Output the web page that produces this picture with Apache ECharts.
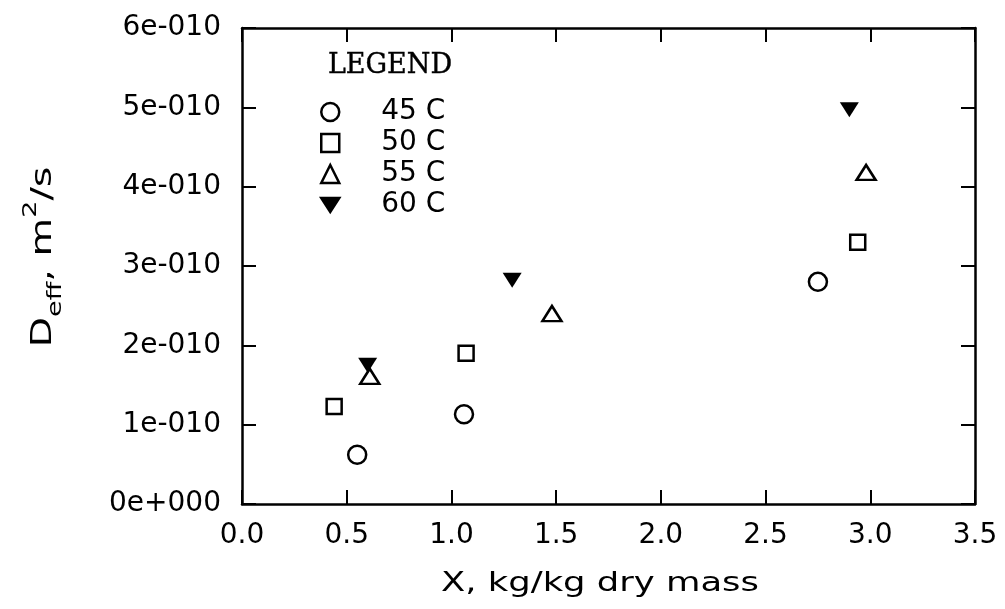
<!DOCTYPE html>
<html>
<head>
<meta charset="utf-8">
<script src="https://cdn.jsdelivr.net/npm/echarts@6/dist/echarts.min.js"></script>
<style>
html,body{margin:0;padding:0;background:#fff;}
#chart{width:1005px;height:609px;}
</style>
</head>
<body>
<div id="chart"></div>
<script>
// ---- data ----
const seriesNames = ['45 C', '50 C', '55 C', '60 C'];
const s45 = [[0.55, 0.62e-10], [1.06, 1.13e-10], [2.75, 2.80e-10]];
const s50 = [[0.44, 1.23e-10], [1.07, 1.90e-10], [2.94, 3.30e-10]];
const s55 = [[0.61, 1.61e-10], [1.48, 2.40e-10], [2.98, 4.18e-10]];
const s60 = [[0.60, 1.75e-10], [1.29, 2.82e-10], [2.90, 4.97e-10]];
const xTickLabels = ['0.0', '0.5', '1.0', '1.5', '2.0', '2.5', '3.0', '3.5'];
const yTickLabels = ['0e+000', '1e-010', '2e-010', '3e-010', '4e-010', '5e-010', '6e-010'];
const xTitle = 'X, kg/kg dry mass';
const legendTitle = 'LEGEND';

const FONT = 'DejaVu Sans';
const chart = echarts.init(document.getElementById('chart'), null, {renderer: 'canvas'});

const lineStyle = {color: '#000', width: 2.5};
const tickStyle = {color: '#000', width: 2};

function xAxisDef(pos, showLabel) {
  return {
    type: 'value', position: pos, min: 0, max: 3.5, interval: 0.5,
    axisLine: {show: true, onZero: false, lineStyle: lineStyle},
    axisTick: {show: true, inside: true, length: 14, lineStyle: tickStyle},
    splitLine: {show: false},
    axisLabel: {
      show: showLabel, margin: 18, fontFamily: FONT, fontSize: 28, color: '#000',
      formatter: function (v) { return xTickLabels[Math.round(v / 0.5)]; }
    }
  };
}
function yAxisDef(pos, showLabel) {
  return {
    type: 'value', position: pos, min: 0, max: 6e-10, interval: 1e-10,
    axisLine: {show: true, onZero: false, lineStyle: lineStyle},
    axisTick: {show: true, inside: true, length: 14, lineStyle: tickStyle},
    splitLine: {show: false},
    axisLabel: {
      show: showLabel, margin: 21, fontFamily: FONT, fontSize: 28, color: '#000',
      formatter: function (v) { return yTickLabels[Math.round(v / 1e-10)]; }
    }
  };
}

const option = {
  backgroundColor: '#fff',
  animation: false,
  grid: {left: 242, right: 30, top: 28, bottom: 105, containLabel: false},
  xAxis: [xAxisDef('bottom', true), xAxisDef('top', false)],
  yAxis: [yAxisDef('left', true), yAxisDef('right', false)],
  legend: {
    orient: 'vertical', left: 320, top: 98, padding: 0,
    itemWidth: 18, itemHeight: 18, itemGap: 3,
    data: seriesNames,
    itemStyle: {borderWidth: 2.5},
    textStyle: {fontFamily: FONT, fontSize: 28, color: '#000', padding: [0, 0, 0, 37]}
  },
  graphic: [
    {
      type: 'text', x: 390, y: 66,
      style: {text: legendTitle, fontFamily: 'DejaVu Serif', fontSize: 27, fill: '#000', stroke: '#000', lineWidth: 0.4, align: 'center', verticalAlign: 'middle'}
    },
    {
      type: 'text', x: 600, y: 584, scaleX: 1.36,
      style: {text: xTitle, fontFamily: FONT, fontSize: 26, fill: '#000', align: 'center', verticalAlign: 'middle'}
    },
    {
      type: 'text', x: 44, y: 257, rotation: Math.PI / 2, scaleX: 1.42,
      style: {
        text: '{d|D}{s|eff}{d|, m}{p|2}{d|/s}',
        align: 'center', verticalAlign: 'middle',
        rich: {
          d: {fontFamily: FONT, fontSize: 28, fill: '#000', lineHeight: 44, verticalAlign: 'middle'},
          s: {fontFamily: FONT, fontSize: 19, fill: '#000', lineHeight: 19, verticalAlign: 'bottom'},
          p: {fontFamily: FONT, fontSize: 19, fill: '#000', lineHeight: 19, verticalAlign: 'top'}
        }
      }
    }
  ],
  series: [
    {name: seriesNames[0], type: 'scatter', data: s45, symbol: 'circle', symbolSize: 18,
     itemStyle: {color: '#fff', borderColor: '#000', borderWidth: 2.5, opacity: 1}},
    {name: seriesNames[1], type: 'scatter', data: s50, symbol: 'rect', symbolSize: 15,
     itemStyle: {color: '#fff', borderColor: '#000', borderWidth: 2.5, opacity: 1}},
    {name: seriesNames[2], type: 'scatter', data: s55, symbol: 'triangle', symbolSize: [19, 15],
     itemStyle: {color: '#fff', borderColor: '#000', borderWidth: 2.5, opacity: 1}},
    {name: seriesNames[3], type: 'scatter', data: s60, symbol: 'path://M0,0L18,0L9,14Z', symbolSize: [19, 15],
     itemStyle: {color: '#000', borderColor: '#000', borderWidth: 0, opacity: 1}}
  ]
};
chart.setOption(option);
</script>
</body>
</html>
